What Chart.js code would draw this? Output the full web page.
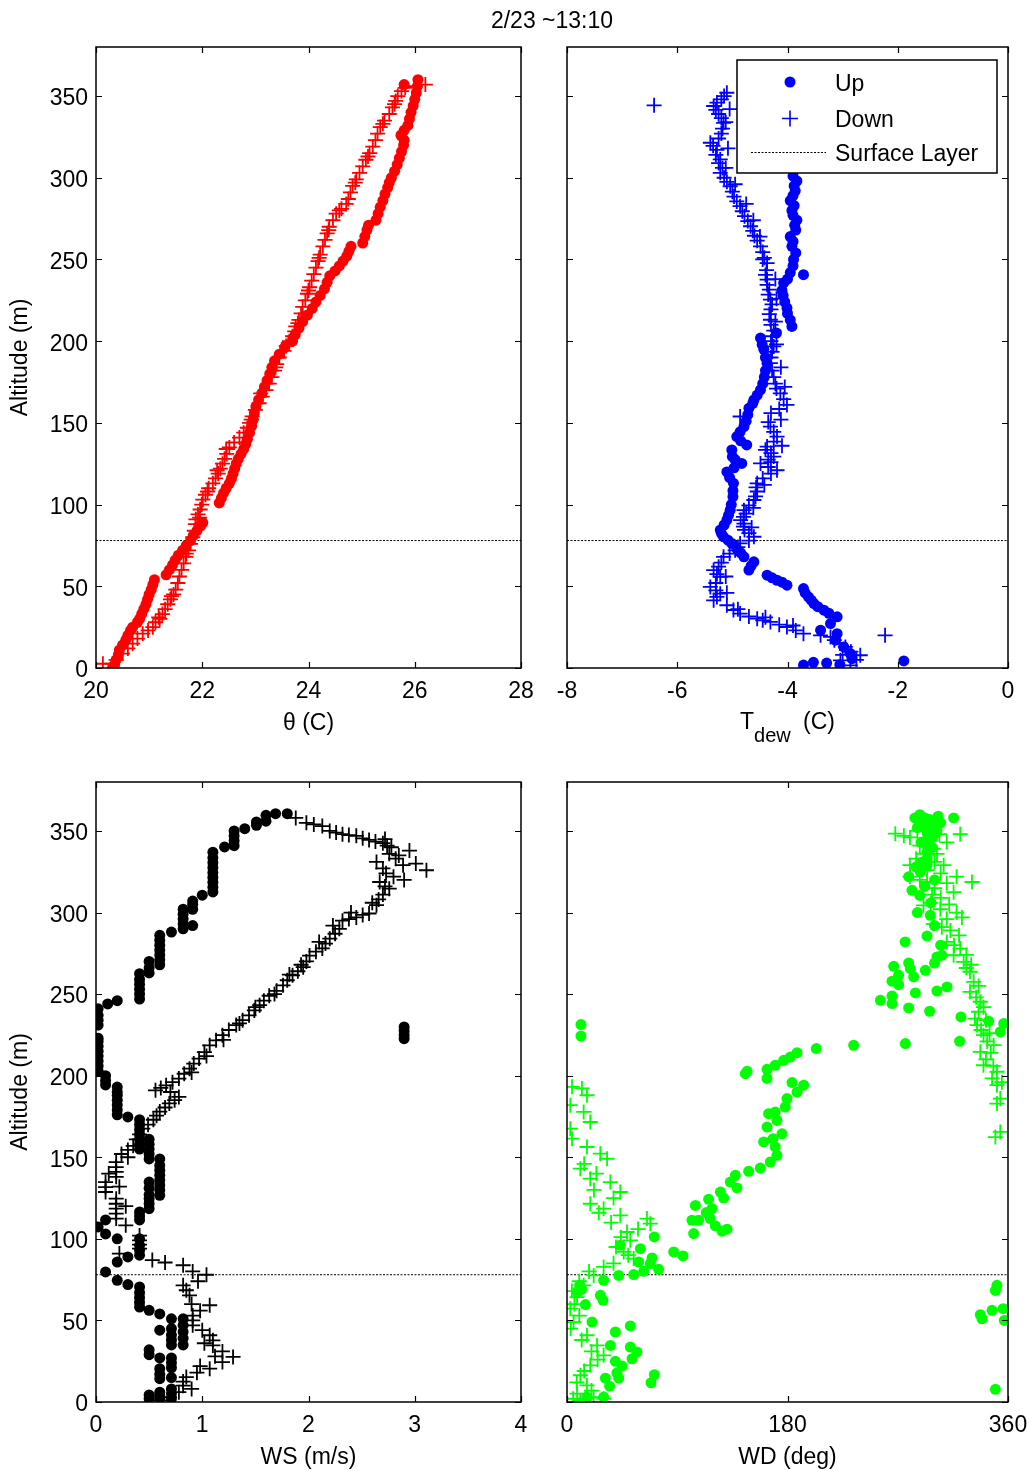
<!DOCTYPE html>
<html>
<head>
<meta charset="utf-8">
<title>Profiles 2/23 ~13:10</title>
<script src="https://cdn.jsdelivr.net/npm/chart.js@4.4.1/dist/chart.umd.min.js"></script>
<style>
  body { margin: 0; background: #fff; }
  #wrap { position: relative; width: 1029px; height: 1471px; }
  #wrap canvas { position: absolute; left: 0; top: 0; }
</style>
</head>
<body>
<div id="wrap">
  <canvas id="theta" width="1029" height="1471"></canvas>
  <canvas id="tdew" width="1029" height="1471"></canvas>
  <canvas id="ws" width="1029" height="1471"></canvas>
  <canvas id="wd" width="1029" height="1471"></canvas>
</div>
<script>
// all series are [value, altitude (m)]
const surfaceLayer = 78;
const altTicks = [0, 50, 100, 150, 200, 250, 300, 350];

// potential temperature (C)
const thetaUp = [
  [20.31,0],[20.35,2],[20.38,5],[20.42,8],[20.44,11],[20.50,14],[20.56,17],[20.60,20],[20.65,23],[20.69,25],
  [20.78,28],[20.82,30],[20.86,33],[20.90,36],[20.94,39],[20.97,42],[21.00,45],[21.04,48],[21.07,51],[21.10,54],
  [21.32,57],[21.38,60],[21.44,63],[21.49,66],[21.55,69],[21.63,72],[21.70,75],[21.78,78],[21.83,81],[21.90,84],
  [21.97,87],[22.01,89],[22.32,101],[22.36,104],[22.40,107],[22.45,110],[22.51,113],[22.55,116],[22.58,119],[22.61,122],
  [22.64,125],[22.68,128],[22.73,131],[22.78,134],[22.82,137],[22.85,140],[22.89,144],[22.93,148],[22.96,152],[22.98,156],
  [23.01,160],[23.06,164],[23.12,168],[23.17,172],[23.22,176],[23.27,180],[23.31,184],[23.36,188],[23.45,192],[23.55,196],
  [23.70,200],[23.75,204],[23.82,208],[23.89,212],[23.98,216],[24.07,220],[24.14,224],[24.22,228],[24.30,232],[24.35,236],
  [24.40,240],[24.50,243],[24.58,246],[24.65,249],[24.72,252],[24.76,255],[24.80,258],[25.02,260],[25.06,264],[25.10,268],
  [25.13,271],[25.27,274],[25.31,278],[25.35,282],[25.40,286],[25.44,290],[25.49,294],[25.52,297],[25.56,300],[25.62,304],
  [25.67,308],[25.71,312],[25.75,316],[25.79,320],[25.80,323],[25.74,326],[25.80,329],[25.87,332],[25.90,336],[25.93,340],
  [25.97,344],[26.00,348],[26.03,352],[26.05,356],[26.06,360],[25.80,357]
];
const thetaDown = [
  [20.13,2.6],[20.31,2.6],[20.38,5],[20.50,8.8],[20.60,12],[20.69,14.9],[20.78,18],[20.88,21],[20.98,23],[21.07,25],
  [21.12,28],[21.18,31],[21.25,33],[21.30,36],[21.35,39],[21.40,42],[21.46,45],[21.50,48],[21.54,52],[21.57,56],
  [21.61,60],[21.65,64],[21.69,68],[21.74,72],[21.78,76],[21.82,80],[21.85,84],[21.87,88],[21.88,91],[21.92,94],
  [21.96,97],[21.99,100],[22.01,103],[22.06,106],[22.12,110],[22.20,113],[22.25,116],[22.30,119],[22.34,122],[22.38,125],
  [22.42,128],[22.46,131],[22.51,135],[22.60,138],[22.70,141],[22.78,144],[22.85,147],[22.89,150],[22.94,154],[23.00,158],
  [23.07,162],[23.13,166],[23.20,170],[23.26,174],[23.31,178],[23.36,182],[23.40,186],[23.45,190],[23.54,194],[23.58,197],
  [23.64,200],[23.70,203],[23.74,206],[23.76,209],[23.82,213],[23.86,217],[23.89,221],[23.94,225],[23.98,229],[24.02,233],
  [24.06,237],[24.10,241],[24.14,245],[24.18,249],[24.22,253],[24.27,258],[24.31,262],[24.35,266],[24.39,270],[24.46,274],
  [24.52,278],[24.62,281],[24.71,284],[24.75,287],[24.79,291],[24.83,295],[24.90,299],[24.96,303],[25.02,307],[25.08,311],
  [25.15,315],[25.21,319],[25.26,323],[25.30,327],[25.35,331],[25.43,335],[25.52,339],[25.58,343],[25.64,347],[25.68,350],
  [25.75,353],[25.82,355],[26.00,356],[26.20,357],
  [21.95,92],[22.10,108],[22.28,121],[22.45,134],[22.92,152],[23.10,168],[23.38,184],[23.62,199],[23.80,211],[24.00,231],
  [24.20,251],[24.38,268],[24.58,280],[24.88,297],[25.12,313],[25.40,333],[25.62,345],[21.20,30],[21.42,44],[21.70,70]
];

// dew point (C)
const tdewUp = [
  [-3.71,1.8],[-3.53,3.5],[-3.29,3],[-3.05,2],[-1.89,4.3],[-2.83,5.7],[-2.86,8.8],[-2.98,12.9],[-3.13,17],[-3.10,21],
  [-3.40,23.1],[-3.22,27.2],[-3.10,31.3],[-3.25,33.5],[-3.34,35.4],[-3.45,37.5],[-3.52,39.4],[-3.57,41.5],[-3.62,43.5],[-3.68,46],
  [-3.71,48.6],[-4.01,50.7],[-4.10,52.5],[-4.19,53.7],[-4.28,55.2],[-4.37,56.8],[-4.70,59.9],[-4.66,62.5],[-4.61,65],[-4.79,68],
  [-4.85,70.5],[-4.92,73.1],[-5.01,76.2],[-5.08,78.2],[-5.16,80.3],[-5.20,82.4],[-5.22,84.4],[-5.15,87.5],[-5.10,90.5],[-5.07,93.5],
  [-5.04,96.6],[-5.02,100],[-4.99,104.8],[-4.99,108.5],[-4.98,113],[-5.05,116.5],[-5.10,120],[-4.97,122.5],[-4.83,125.2],[-4.95,127.5],
  [-5.00,129.4],[-5.01,133.4],[-4.74,136.5],[-4.85,139],[-4.92,141.6],[-4.86,144.5],[-4.79,147.7],[-4.75,151],[-4.72,155],[-4.70,159],
  [-4.63,162],[-4.61,164],[-4.55,167],[-4.49,170.2],[-4.45,174],[-4.42,178],[-4.40,182],[-4.37,186.5],[-4.40,190],[-4.43,195],
  [-4.46,198],[-4.49,201.9],[-4.20,205],[-3.92,209],[-3.95,213],[-4.00,217],[-4.01,220.3],[-4.05,224],[-4.08,228],[-4.10,231],
  [-4.07,235.6],[-4.00,238],[-3.71,240.7],[-3.95,242],[-3.90,246],[-3.89,250],[-3.85,254],[-3.92,258],[-3.90,261],[-3.95,264],
  [-3.85,268],[-3.87,271],[-3.83,274],[-3.90,277],[-3.92,280],[-3.88,283],[-3.95,286],[-3.90,289],[-3.86,292],[-3.88,295],
  [-3.83,298],[-3.90,301],[-3.88,305],[-3.90,310],[-3.92,315],[-3.95,320],[-3.95,325],[-3.98,330],[-4.00,335],[-4.00,340],
  [-4.05,345],[-4.05,350],[-4.10,355]
];
const tdewDown = [
  [-2.86,1.6],[-3.04,4.7],[-2.75,5],[-2.68,7.8],[-2.85,10],[-2.95,12.9],[-3.05,15],[-3.15,17],[-3.22,19],[-2.23,20],
  [-3.71,21],[-3.85,23],[-4.01,25.1],[-4.15,26.5],[-4.31,28.2],[-4.45,29.2],[-4.55,30.2],[-4.70,31.5],[-4.86,33.3],[-4.98,35.5],
  [-5.10,38.4],[-5.34,41.4],[-5.28,43.5],[-5.22,45.5],[-5.30,47.5],[-5.40,49.6],[-5.30,52],[-5.22,55.8],[-5.28,57.5],[-5.34,59.9],
  [-5.25,62],[-5.20,64.5],[-5.16,68],[-5.05,70],[-4.95,72],[-4.90,74],[-4.86,76.2],[-4.70,78],[-4.61,80.3],[-4.70,82.5],
  [-4.78,84.5],[-4.80,86.5],[-4.79,88.4],[-4.85,90.5],[-4.80,92.5],[-4.75,94.5],[-4.79,96.6],[-4.70,99.5],[-4.61,102.8],[-4.58,105],
  [-4.55,108],[-4.57,110.5],[-4.55,113],[-4.45,116],[-4.30,119],[-4.19,121],[-4.35,123],[-4.49,125.2],[-4.35,127.5],[-4.25,129.4],
  [-4.30,131.5],[-4.40,133.5],[-4.37,135.5],[-4.25,138.5],[-4.19,141.6],[-4.25,144.5],[-4.31,147.7],[-4.35,150.5],[-4.86,153.9],[-4.30,156],
  [-4.15,158.5],[-4.01,161],[-4.07,164.5],[-4.13,168],[-4.20,171],[-4.22,174],[-4.25,178],[-4.28,182],[-4.31,186.5],[-4.30,190],
  [-4.28,193.5],[-4.25,196.8],[-4.30,200],[-4.28,203],[-4.25,206.5],[-4.30,210],[-4.31,213.1],[-4.33,216.5],[-4.30,219.5],[-4.28,222.5],
  [-4.31,225.4],[-4.35,228.5],[-4.33,231.5],[-4.37,234.5],[-4.37,237.6],[-4.40,240.5],[-4.38,243.5],[-4.37,247.8],[-4.42,251],[-4.45,254.5],
  [-4.49,258],[-4.55,261.5],[-4.60,264.5],[-4.63,267.5],[-4.67,270.3],[-4.72,273.5],[-4.78,276.5],[-4.82,279.5],[-4.86,282.6],[-4.92,285.5],
  [-4.97,288.5],[-5.00,291.5],[-5.04,294.8],[-5.10,297.5],[-5.15,300],[-5.22,303],[-5.18,306],[-5.25,309],[-5.22,311.2],[-5.30,314],
  [-5.28,317],[-5.35,319.5],[-5.40,321.4],[-5.25,324],[-5.20,327],[-5.18,330],[-5.16,333.6],[-5.20,336.5],[-5.25,339],[-5.30,341.5],
  [-5.34,343.9],[-5.28,346],[-5.20,348],[-5.15,350],[-5.10,352],[-6.42,344.3],
  [-5.05,342],[-5.12,334],[-5.08,318],[-5.12,306],[-4.95,296],[-4.75,284],[-4.62,274],[-4.50,264],[-4.45,250],[-4.22,238],
  [-4.20,226],[-4.22,212],[-4.20,198],[-4.12,184],[-4.05,172],[-4.12,152],[-4.10,136],[-4.30,126],[-4.42,112],[-4.62,98],
  [-4.65,86],[-5.12,56],[-5.10,46],[-4.90,36],[-4.40,31],[-3.90,26],[-3.40,20],[-3.00,8]
];

// wind speed (m/s)
const wsUp = [
  [0.50,2],[0.50,4.3],[0.60,2.3],[0.60,4],[0.60,6],[0.71,2],[0.71,5],[0.71,8],[0.60,14.3],[0.60,17],
  [0.60,20.4],[0.71,15],[0.71,21],[0.71,24],[0.71,27],[0.60,27],[0.50,29],[0.50,32],[0.71,35],[0.71,38],
  [0.71,41],[0.60,44],[0.71,45],[0.82,35],[0.82,39],[0.82,43],[0.82,47],[0.82,51],[0.71,51],[0.60,54],
  [0.50,56.2],[0.41,58.2],[0.41,61],[0.41,64],[0.41,67],[0.41,70.5],[0.30,72],[0.20,74.6],[0.09,79.7],[0.20,85.8],
  [0.30,88.9],[0.41,90],[0.41,93],[0.41,96],[0.41,100],[0.20,100],[0.09,103],[0.02,107.3],[0.09,111.6],[0.41,111.6],
  [0.41,114],[0.41,116.5],[0.50,118.5],[0.50,121.5],[0.50,124.5],[0.50,127],[0.50,131],[0.50,134.8],[0.60,126.7],[0.60,130],
  [0.60,133],[0.60,136],[0.60,139],[0.60,142],[0.60,145],[0.60,149],[0.50,149],[0.50,152],[0.50,155],[0.50,158],
  [0.50,161],[0.41,155],[0.41,158],[0.41,161],[0.41,164],[0.41,167],[0.41,170],[0.41,173],[0.30,174.7],[0.20,176],
  [0.20,179],[0.20,182],[0.20,185],[0.20,188],[0.20,190],[0.20,193],[0.09,194.3],[0.09,197],[0.09,200],[0.02,203],
  [0.02,206],[0.02,209],[0.02,212],[0.02,215],[0.02,218],[0.02,221],[0.02,223],[0.02,231],[0.02,234],[0.02,237],
  [0.02,241],[0.11,244],[0.20,246],[0.41,247],[0.41,250],[0.41,253],[0.41,256],[0.41,259],[0.41,262.5],[0.50,263],
  [0.50,266],[0.50,270],[0.60,268],[0.60,271],[0.60,274],[0.60,277],[0.60,280],[0.60,283],[0.60,286],[0.71,288],
  [0.82,290],[0.82,293],[0.82,296],[0.82,299],[0.82,302],[0.91,292],[0.91,302],[0.91,305],[0.91,307],[1.00,310.6],
  [1.10,312.6],[1.10,315.5],[1.10,318.5],[1.10,321.5],[1.10,324.5],[1.10,327.5],[1.10,330.5],[1.10,333.5],[1.10,337],[1.21,340.2],
  [1.30,341],[1.30,344],[1.30,347],[1.30,350],[1.40,351.4],[1.51,353.5],[1.51,355.5],[1.60,356],[1.60,359.6],[1.69,360.6],
  [1.80,360.6],[2.90,222.7],[2.90,225],[2.90,227.5],[2.90,229.9]
];
const wsDown = [
  [1.88,358],[1.98,355],[2.05,354],[2.13,353],[2.20,350],[2.26,349],[2.32,348],[2.38,347.5],[2.45,347],[2.51,345.5],
  [2.57,344.5],[2.63,343.5],[2.70,342.5],[2.74,341],[2.76,336],[2.95,338],[2.85,335],[2.64,331],[2.89,329],[3.01,330],
  [3.11,325.9],[2.73,324],[2.80,322],[2.67,318.7],[2.76,314.6],[2.70,311],[2.66,308],[2.64,304.5],[2.57,299.4],[2.51,298.5],
  [2.45,297],[2.38,296],[2.32,295],[2.29,290],[2.25,287],[2.20,284],[2.16,281],[2.13,278],[2.07,276],[2.01,273.6],
  [1.98,270],[1.95,266.5],[1.90,264],[1.85,261.5],[1.80,258.5],[1.76,255.4],[1.70,252],[1.63,249],[1.58,246],[1.54,243.2],
  [1.49,240],[1.44,237],[1.38,234],[1.32,231],[1.25,228],[1.19,224.8],[1.13,221.7],[1.07,218.6],[1.02,214.5],[0.97,210.5],
  [0.92,207.4],[0.88,204.3],[0.83,201.2],[0.78,198.2],[0.72,196],[0.66,194.1],[0.61,192.5],[0.56,191],[0.78,187],[0.74,185],
  [0.69,183],[0.65,180.5],[0.60,178],[0.57,175.5],[0.54,173],[0.49,170],[0.44,167.5],[0.41,164],[0.38,161],[0.35,157],
  [0.30,154.5],[0.24,152],[0.19,147],[0.19,144],[0.19,141],[0.19,138],[0.09,134.8],[0.09,131.7],[0.09,128.7],[0.19,124.6],
  [0.19,121.5],[0.19,118.5],[0.19,115.5],[0.19,112.4],[0.28,108.3],[0.41,102],[0.41,99],[0.41,96.5],[0.41,94],[0.22,91],
  [0.53,87],[0.65,85.5],[0.82,83.8],[0.91,80],[1.04,78],[0.82,71.5],[0.85,68.5],[0.88,65.4],[1.07,59.3],[0.98,56],
  [0.91,53],[0.91,50],[0.91,47],[1.00,44],[1.07,40.9],[1.10,37.8],[1.10,34.7],[1.19,31],[1.29,27.6],[1.19,24.5],
  [1.07,20.4],[0.95,18],[0.85,15.3],[0.82,12.5],[0.82,10],[0.78,6],[0.69,3],[0.60,1],
  [2.72,345],[2.78,340],[2.82,333],[2.70,327],[2.90,320],[2.72,316],[2.60,306],[2.40,300],[2.23,292],[2.10,282],
  [1.93,268],[1.82,262],[1.68,250],[1.50,242],[1.35,232],[1.20,222],[1.04,212],[0.90,202],[0.70,190],[0.30,150],
  [0.22,132],[0.28,120],[0.12,140],[0.96,74],[0.90,60],[1.02,36],[1.12,28],[0.98,22],[0.90,8]
];

// wind direction (deg)
const wdUp = [
  [288,360],[292,358],[296,357],[300,356],[305,355],[290,354],[298,353],[315.6,358],[286,352],[302,350],
  [294,349],[294,345],[294,341],[294,337],[294,333],[294,329],[288.4,325],[279,322],[281.6,313.6],[288,310.5],
  [296.6,298.3],[293.9,285.6],[302,272.8],[306,273.8],[266.7,267],[278.9,269],[280.3,265.6],[292.5,264.6],[270.7,261.5],[283,260.6],
  [265.3,257.9],[270.7,255.8],[310.2,254.4],[302,251.9],[284.4,250.7],[265.3,248.8],[255.8,246.2],[265.3,244.2],[278.9,241.5],[296,239.5],
  [321.6,236],[344.2,233.4],[356.5,232],[353.7,226.8],[320.5,221.1],[276.2,219.7],[234,218.6],[203.5,216.6],[187.8,214.1],[182.3,211.4],
  [176.9,209.4],[170,206.4],[163.3,203.9],[147,202.7],[145.6,201.2],[163.3,198.3],[183.7,195.8],[193.2,194.2],[11.4,231.3],[11.4,224.3],
  [187.8,190],[179.6,186],[178.2,180.8],[164.6,176.7],[170,177.7],[171.4,172.6],[163.3,168.5],[175.5,164.4],[168.2,161.4],[160.5,159.4],
  [170,156.3],[171.4,151.2],[166,147.1],[157.8,143.4],[148.3,141.4],[137.4,138.9],[133.3,134.8],[138.8,131.2],[125.2,128.7],[127.9,125],
  [115.6,124.2],[104.8,120.5],[118.4,118.5],[113.7,116.1],[117,112.4],[102,111.4],[107.5,111.4],[121.1,107.9],[130.6,105.9],[126.5,104.7],
  [103.4,103.2],[71.3,101.2],[59.9,94],[87.1,92],[94.7,89.5],[69.4,88.3],[43.5,96],[58.5,85.8],[68,84.8],[74.8,81.3],
  [62.6,80.1],[54.4,78.1],[42.2,77.6],[29.9,74.6],[10.3,71.5],[12,69],[8.2,67.4],[27.2,65.4],[29.4,62.3],[15,59.7],
  [20.4,49],[51.7,46.6],[39.5,42.9],[35.4,34.7],[51.7,33.7],[57.1,30.6],[53.1,26.5],[39.5,24.9],[44.9,22],[40.8,17.9],
  [31.3,14.6],[42.2,14.6],[71.3,16.7],[68.6,11.8],[34.8,9.7],[29.9,3],[16.3,3],[349.7,7.8],[351,71.5],[349.7,68.4],
  [337.4,53.5],[338.8,51],[347,56.2],[356,57.2],[357,50],
  [284,358],[303,359],[299,347],[289,343],[298,340],[290,331],[285,328],[300,320],[292,316],[297,306],
  [300,292],[305,280],[300,269],[276,282],[286,300]
];
const wdDown = [
  [268,348.3],[275,347],[280,346],[286,350],[291,353],[295,355],[300,352],[304,348],[321,348],[310,343],
  [299,339],[292,336],[285,333],[280,329],[300,331],[307.5,329],[318,322],[330.6,318.7],[280,322],[288,320],
  [294,318.7],[300,315],[315.6,312.5],[305,309],[297,306],[291,304.4],[304.8,302],[322.4,297],[299,293],[306,291],
  [313,289],[310,282],[316,280],[321,277.9],[315.6,273.8],[323.8,269.7],[326,266],[329,263.7],[332,257.5],[329,251.4],
  [334,248],[337.4,245.3],[336,239.2],[333,235],[334.7,231],[338,228],[340,224.8],[343,221],[348.3,218.7],[337.4,214.6],
  [342,210],[340,206.4],[351,202.4],[347,198.3],[351,194.2],[351,182.9],[353.7,186],[349.7,162.4],[353.7,165.5],
  [4.1,193.2],[12.2,192.2],[16.3,188],[2.7,181.9],[13.6,177.8],[19,171.6],[2.7,167.5],[4.1,161.4],[16.3,156.3],[27.2,152.2],
  [32.7,149.1],[14,146],[10.9,143],[24,140],[19,136.9],[35.4,134.8],[22,130],[43.5,128.7],[38,125],[19,121.5],
  [29.9,118.5],[26,116],[43.5,114.4],[65.3,112.4],[36,110],[68,109.3],[58,106],[49,104.2],[44,101],[51.7,99.1],
  [40,95],[46.3,92],[50,90],[54.4,87.9],[38,85],[29.9,82.8],[18,80],[21.8,77.6],[10,74],[13.6,71.5],
  [4,68],[8.2,64.3],[6,60],[2.7,57.2],[10,53],[5.4,49],[3,45],[16.3,40.9],[12,38],[24.5,34.7],
  [20,31],[29.9,28.6],[25,26],[19,22.5],[14,19],[10.9,16.4],[8,12],[16.3,10.2],[20,7],[8.2,5.1],
  [21.8,3],[30,2],[15,2],[5,2],[10.9,1],
  [296,344],[288,341],[302,336],[294,326],[305,324],[310,318],[298,311],[312,305],[318,300],[310,296],
  [320,286],[326,274],[330,268],[336,255],[340,242],[342,234],[345,226],[346,214],[348,206],[355,196]
];

const FONT = '"Liberation Sans", Arial, sans-serif';
const FS = 23;

const panels = [
  { id: 'theta', area: [96, 47, 521, 668], xMin: 20, xMax: 28, xStep: 2, yLabels: true,
    up: thetaUp, down: thetaDown, color: '#ff0000', xTitle: 'θ (C)' },
  { id: 'tdew', area: [567, 47, 1008, 668], xMin: -8, xMax: 0, xStep: 2, yLabels: false,
    up: tdewUp, down: tdewDown, color: '#0000ff', xTitle: null, legend: true },
  { id: 'ws', area: [96, 782, 521, 1402], xMin: 0, xMax: 4, xStep: 1, yLabels: true,
    up: wsUp, down: wsDown, color: '#000000', xTitle: 'WS (m/s)' },
  { id: 'wd', area: [567, 782, 1008, 1402], xMin: 0, xMax: 360, xStep: 180, yLabels: false,
    up: wdUp, down: wdDown, color: '#00ff00', xTitle: 'WD (deg)' }
];

// frame with inward ticks, axis titles, legend
const framePlugin = {
  id: 'frame',
  afterDraw(chart, args, opts) {
    const p = opts.panel;
    const ctx = chart.ctx;
    const a = chart.chartArea;
    const xs = chart.scales.x, ys = chart.scales.y;
    ctx.save();
    ctx.strokeStyle = '#000';
    ctx.lineWidth = 1.5;
    ctx.strokeRect(a.left, a.top, a.right - a.left, a.bottom - a.top);
    ctx.lineWidth = 1.2;
    ctx.beginPath();
    for (let v = p.xMin; v <= p.xMax; v += p.xStep) {
      const px = Math.round(xs.getPixelForValue(v)) + 0.5;
      ctx.moveTo(px, a.bottom); ctx.lineTo(px, a.bottom - 6);
      ctx.moveTo(px, a.top); ctx.lineTo(px, a.top + 6);
    }
    altTicks.forEach(v => {
      const py = Math.round(ys.getPixelForValue(v)) + 0.5;
      ctx.moveTo(a.left, py); ctx.lineTo(a.left + 6, py);
      ctx.moveTo(a.right, py); ctx.lineTo(a.right - 6, py);
    });
    ctx.stroke();

    ctx.fillStyle = '#000';
    ctx.font = FS + 'px ' + FONT;
    ctx.textAlign = 'center';
    ctx.textBaseline = 'middle';
    const cx = (a.left + a.right) / 2;
    if (p.xTitle) ctx.fillText(p.xTitle, cx, a.bottom + 56);
    if (p.id === 'tdew') {
      // T_dew (C) with subscript
      const small = 20 + 'px ' + FONT;
      ctx.font = FS + 'px ' + FONT;
      const wT = ctx.measureText('T').width;
      const wC = ctx.measureText(' (C)').width;
      ctx.font = small;
      const wd = ctx.measureText('dew').width;
      let x0 = cx - (wT + wd + 6 + wC) / 2;
      ctx.textAlign = 'left';
      ctx.font = FS + 'px ' + FONT;
      ctx.fillText('T', x0, a.bottom + 55);
      ctx.font = small;
      ctx.fillText('dew', x0 + wT, a.bottom + 68);
      ctx.font = FS + 'px ' + FONT;
      ctx.fillText(' (C)', x0 + wT + wd + 6, a.bottom + 55);
    }
    if (p.yLabels) {
      ctx.save();
      ctx.translate(21, (a.top + a.bottom) / 2);
      ctx.rotate(-Math.PI / 2);
      ctx.textAlign = 'center';
      ctx.font = FS + 'px ' + FONT;
      ctx.fillText('Altitude (m)', 0, 0);
      ctx.restore();
    }
    if (p.id === 'theta') {
      ctx.textAlign = 'center';
      ctx.font = FS + 'px ' + FONT;
      ctx.fillText('2/23 ~13:10', 552, 22);
    }
    if (p.legend) {
      const L = 737, T = 60, R = 997, B = 173;
      ctx.fillStyle = '#fff';
      ctx.fillRect(L, T, R - L, B - T);
      ctx.strokeStyle = '#000';
      ctx.lineWidth = 1.5;
      ctx.strokeRect(L, T, R - L, B - T);
      ctx.fillStyle = p.color;
      ctx.beginPath();
      ctx.arc(790, 82, 5.5, 0, Math.PI * 2);
      ctx.fill();
      ctx.strokeStyle = p.color;
      ctx.lineWidth = 1.6;
      ctx.beginPath();
      ctx.moveTo(782, 118.5); ctx.lineTo(798, 118.5);
      ctx.moveTo(790, 110.5); ctx.lineTo(790, 126.5);
      ctx.stroke();
      ctx.strokeStyle = '#000';
      ctx.lineWidth = 1;
      ctx.setLineDash([2, 1.5]);
      ctx.beginPath();
      ctx.moveTo(751, 152.5); ctx.lineTo(826, 152.5);
      ctx.stroke();
      ctx.setLineDash([]);
      ctx.fillStyle = '#000';
      ctx.textAlign = 'left';
      ctx.font = FS + 'px ' + FONT;
      ctx.fillText('Up', 835, 85);
      ctx.fillText('Down', 835, 121);
      ctx.fillText('Surface Layer', 835, 155);
    }
    ctx.restore();
  }
};

const toXY = arr => arr.map(d => ({ x: d[0], y: d[1] }));

panels.forEach(p => {
  const [l, t, r, b] = p.area;
  new Chart(document.getElementById(p.id), {
    type: 'scatter',
    data: {
      datasets: [{
        label: 'Up',
        data: toXY(p.up),
        pointStyle: 'circle',
        pointRadius: 5.5,
        pointBackgroundColor: p.color,
        pointBorderWidth: 0,
        pointHoverRadius: 5.5
      }, {
        label: 'Down',
        data: toXY(p.down),
        pointStyle: 'cross',
        pointRadius: 7.5,
        pointBorderColor: p.color,
        pointBorderWidth: 1.8,
        pointHoverRadius: 7.5
      }, {
        label: 'Surface Layer',
        data: [{ x: p.xMin, y: surfaceLayer }, { x: p.xMax, y: surfaceLayer }],
        showLine: true,
        borderColor: '#000',
        borderWidth: 1,
        borderDash: [2, 1.5],
        pointRadius: 0,
        pointHoverRadius: 0
      }]
    },
    options: {
      responsive: false,
      animation: false,
      devicePixelRatio: 1,
      events: [],
      layout: { padding: { left: l - 60, top: t, right: 1029 - r, bottom: 1471 - b - 40 } },
      plugins: {
        legend: { display: false },
        tooltip: { enabled: false },
        frame: { panel: p }
      },
      scales: {
        x: {
          type: 'linear',
          min: p.xMin,
          max: p.xMax,
          grid: { display: false, drawTicks: false },
          border: { display: false },
          ticks: { stepSize: p.xStep, padding: 10, color: '#000', font: { family: FONT, size: FS }, maxRotation: 0 },
          afterFit(s) { s.height = 40; s.paddingLeft = 0; s.paddingRight = 0; }
        },
        y: {
          type: 'linear',
          min: 0,
          max: 380,
          grid: { display: false, drawTicks: false },
          border: { display: false },
          ticks: { display: p.yLabels, stepSize: 50, padding: 8, labelOffset: 3, color: '#000', font: { family: FONT, size: FS } },
          afterBuildTicks(s) { s.ticks = s.ticks.filter(tk => tk.value <= 350); },
          afterFit(s) { s.width = 60; s.paddingTop = 0; s.paddingBottom = 0; }
        }
      }
    },
    plugins: [framePlugin]
  });
});
</script>
</body>
</html>
